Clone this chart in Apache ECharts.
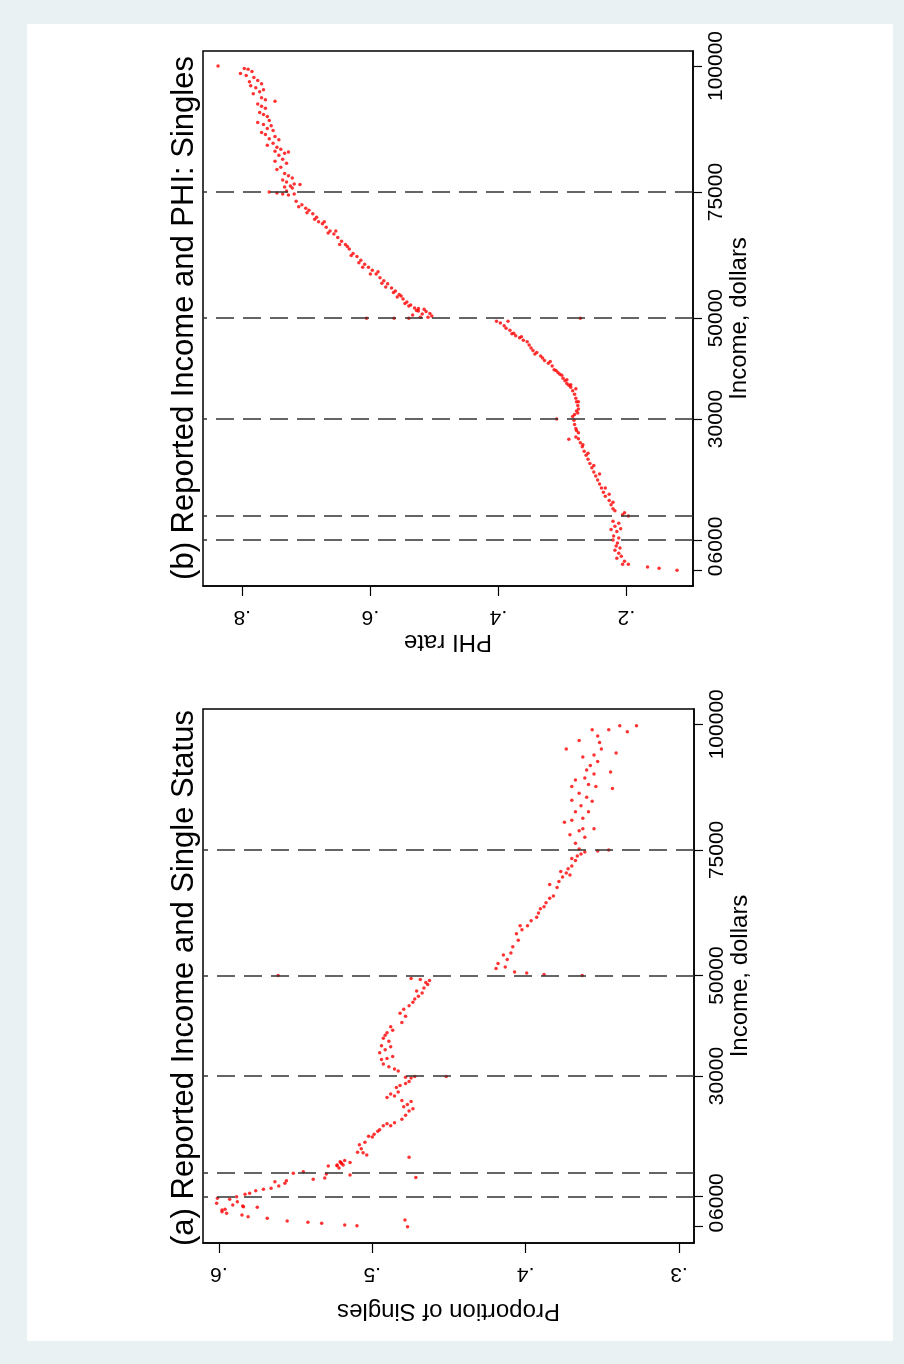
<!DOCTYPE html>
<html>
<head>
<meta charset="utf-8">
<script src="https://cdn.jsdelivr.net/npm/echarts@6/dist/echarts.min.js"></script>
<style>
html,body{margin:0;padding:0;background:#e9f1f3;}
#c{width:904px;height:1364px;}
</style>
</head>
<body>
<div id="c"></div>
<script>
// ---------- data ----------
const incomeTicks = [0, 6000, 30000, 50000, 75000, 100000];
const cutoffs = [6000, 10800, 30000, 50000, 75000];
const singlesTicks = [0.3, 0.4, 0.5, 0.6];
const phiTicks = [0.2, 0.4, 0.6, 0.8];

// Panel (a): income (dollars) and proportion of singles
const incomeA = [
5650,4660,2990,3460,2670,5450,4320,5970,4980,2330,3980,1990,6450,6650,3860,7170,7440,1670,7640,8960,
8100,8640,9160,1130,10630,10950,880,9430,680,10500,9700,12080,12280,12940,12600,340,10300,200,3300,4100,
1330,0,9800,13800,
12150,12800,12300,13200,11700,12800,14800,16300,15500,14700,16800,14250,18000,17850,18400,19000,19300,20100,20500,20100,20700,
21400,22200,23050,23500,24300,23900,24900,25100,26000,26800,26400,25700,27700,28100,28500,28900,29600,29900,29750,29900,
31000,31400,31850,32400,33300,33500,33900,34600,35200,35800,36000,36900,37500,38600,39100,38100,39800,
40650,41900,42500,43300,44000,44700,45300,45850,46500,46900,47500,48200,48600,49000,49200,49400,50000,
51400,52400,51700,53200,54100,54500,50700,50500,50200,50000,
55700,57000,58300,59100,59900,59900,60900,61600,62450,63300,63700,64500,65400,65800,68100,67500,68700,69600,70400,71250,
70700,71800,72900,73800,74200,74600,74800,75000,70000,
73300,75200,76300,78000,78800,79200,80900,80500,81300,82600,83800,84900,85500,86300,88000,88900,89300,90100,91800,92600,
93900,95100,96400,96800,98900,97650,98900,99700,99700,98500,90500,87200,94300,95100,79200,77500,82600,84700,87600,87600,
90900,93500
];
const singlesA = [
.601,.6015,.598,.596,.595,.593,.591,.5885,.588,.585,.584,.581,.583,.580,.575,.576,.571,.5685,.566,.5635,
.561,.557,.556,.5555,.5515,.545,.542,.5385,.533,.530,.531,.5287,.523,.521,.520,.518,.5145,.510,.598,.5845,
.4787,.477,.4716,.476,
.523,.5205,.519,.518,.5217,.5145,.5096,.5084,.5072,.506,.5048,.5036,.5024,.500,.4988,.4964,.4952,.4928,.4904,.488,.4855,
.4807,.4783,.476,.4735,.4771,.4795,.4747,.4807,.4855,.4831,.488,.4904,.4843,.4819,.4783,.476,.4747,.4723,.4783,.4518,
.4831,.4855,.4892,.4928,.494,.4904,.4867,.4952,.4916,.488,.494,.4892,.4928,.4904,.4867,.4916,.488,
.4807,.4783,.4819,.4795,.476,.4735,.4723,.4699,.4675,.4711,.4663,.4639,.4651,.4627,.4687,.4747,.5614,
.4193,.418,.4133,.412,.4145,.4096,.4072,.3993,.388,.3631,
.4084,.4048,.406,.4024,.4036,.3988,.3964,.3928,.3916,.3904,.388,.3867,.3843,.3819,.3843,.3795,.3783,.3759,.3735,.3723,
.3771,.3699,.3675,.3663,.3639,.3614,.353,.3458,.3711,
.3699,.3651,.3675,.3711,.3651,.3627,.3699,.3747,.3627,.3675,.3639,.3699,.3602,.3651,.359,.3675,.3614,.3554,.3578,.353,
.3554,.3506,.3518,.3651,.3566,.353,.3458,.3386,.3277,.3337,.3446,.3434,.341,.3735,.3554,.3614,.359,.3566,.3542,.3699,
.3602,.3627
];

// Panel (b): income (dollars) and PHI rate
const incomeB = [
100000,98500,99500,99350,98900,98100,97700,96900,97100,96500,96100,95700,95300,94900,94500,93700,93300,93000,92450,92000,
91600,90800,90400,90000,89200,88800,88400,88150,87600,87200,86800,86400,86000,85550,85400,84700,84300,83900,83500,83100,
82700,82950,82300,81500,81100,80700,79900,79500,78700,78250,77800,77400,77000,76600,76200,76500,75800,76000,75200,
75000,74800,74600,74400,74600,
73200,72500,71800,71400,70700,70000,69100,68700,68000,67300,66700,66000,65250,64600,63700,62800,62200,61500,60700,60100,
59500,58750,58000,57400,56800,56000,55400,54700,53800,53200,52600,52000,51400,50800,51300,50900,50450,50600,51900,51750,50200,
72100,70900,69600,69100,66900,67300,64600,64200,62400,61000,60100,58750,59200,56900,56200,55100,54200,54400,52900,52400,51500,50200,
50000,50000,50000,
49400,49050,49400,48500,48000,47600,47000,46500,46100,45600,45300,44700,44100,43600,43200,42500,41600,41050,40500,39750,
39200,38700,38100,37600,37050,36700,36300,35600,34900,34100,33400,32700,32000,31600,30900,30500,29750,28900,27700,26450,
26100,25300,24500,23600,22800,22000,21200,20350,19500,18700,17900,17100,16300,15500,14700,13850,13000,12200,11800,11400,
10750,11000,
50000,30000,26000,
46900,46300,42900,42100,41400,39600,38900,37800,36800,36000,33400,31200,28100,27300,24900,23200,20800,19100,16300,15100,13500,
9750,9330,8750,8100,7700,8250,6800,6400,6000,5400,4800,4400,4000,3400,2800,2400,1800,1200,1200,640,400,0
];
const phiB = [
.838,.803,.797,.791,.785,.794,.782,.789,.776,.770,.787,.779,.767,.773,.783,.770,.764,.749,.776,.770,
.764,.773,.767,.761,.758,.776,.767,.755,.761,.752,.770,.764,.749,.758,.743,.752,.761,.746,.740,.749,
.734,.728,.743,.737,.749,.731,.740,.746,.734,.728,.722,.737,.731,.719,.725,.710,.722,.734,.731,
.758,.746,.737,.728,.719,
.716,.707,.701,.696,.690,.684,.681,.675,.669,.663,.657,.651,.645,.639,.633,.627,.621,.615,.609,.603,
.597,.591,.585,.579,.573,.567,.561,.555,.549,.543,.537,.531,.525,.519,.513,.507,.504,.534,.525,.516,.510,
.712,.699,.687,.672,.666,.654,.648,.636,.630,.618,.612,.600,.588,.582,.576,.564,.558,.552,.546,.540,.528,.522,
.606,.563,.540,
.403,.397,.385,.391,.388,.382,.376,.373,.367,.361,.355,.352,.349,.346,.340,.334,.328,.322,.316,.313,
.307,.301,.299,.296,.293,.290,.287,.284,.281,.279,.278,.276,.275,.278,.281,.284,.282,.281,.278,.279,
.275,.272,.269,.266,.263,.260,.257,.254,.251,.248,.245,.242,.239,.236,.233,.227,.224,.221,.218,.203,
.197,.206,
.272,.309,.290,
.379,.364,.343,.331,.319,.310,.304,.293,.287,.279,.275,.276,.279,.275,.268,.260,.251,.242,.233,.227,.221,
.221,.212,.218,.224,.215,.209,.220,.212,.221,.214,.216,.210,.218,.212,.208,.215,.203,.206,.197,.167,.149,.121
];

const titleA = '(a) Reported Income and Single Status';
const titleB = '(b) Reported Income and PHI: Singles';

// ---------- chart ----------
const FONT = '"Liberation Sans", Arial, Helvetica, sans-serif';
const chart = echarts.init(document.getElementById('c'), null, {renderer: 'canvas', width: 904, height: 1364});

function propAxis(gridIndex, min, max, ticks, name, nameGap) {
  return {
    type: 'value', gridIndex, min, max, inverse: true, position: 'bottom',
    name, nameLocation: 'middle', nameGap, nameRotate: 180, nameMoveOverlap: false,
    nameTextStyle: {fontFamily: FONT, fontSize: 24, color: '#000'},
    axisLine: {show: true, onZero: false, lineStyle: {color: '#000', width: 1.5}},
    axisTick: {show: true, length: 10, customValues: ticks, lineStyle: {color: '#000', width: 1.2}},
    axisLabel: {show: true, customValues: ticks, rotate: 180, margin: 20, fontFamily: FONT, fontSize: 21, color: '#000',
      hideOverlap: false, formatter: v => v.toFixed(1).replace(/^0/, '')},
    splitLine: {show: false}
  };
}
function incomeAxis(gridIndex, min, max) {
  return {
    type: 'value', gridIndex, min, max, position: 'right',
    name: 'Income, dollars', nameLocation: 'middle', nameGap: 34, nameRotate: 90, nameMoveOverlap: false,
    nameTextStyle: {fontFamily: FONT, fontSize: 24, color: '#000'},
    axisLine: {show: true, onZero: false, lineStyle: {color: '#000', width: 1.5}},
    axisTick: {show: true, length: 9, customValues: incomeTicks, lineStyle: {color: '#000', width: 1.2}},
    axisLabel: {show: true, customValues: incomeTicks, rotate: 90, margin: 13, fontFamily: FONT, fontSize: 21, color: '#000',
      hideOverlap: false, showMinLabel: true, showMaxLabel: true, formatter: v => String(Math.round(v))},
    splitLine: {show: false}
  };
}
function cutLines() {
  return {
    silent: true, symbol: 'none', animation: false,
    label: {show: false},
    lineStyle: {color: '#333', width: 1.5, type: [18, 9]},
    data: cutoffs.map(v => ({yAxis: v}))
  };
}

const option = {
  backgroundColor: '#e9f1f3',
  animation: false,
  graphic: [
    {type: 'rect', z: -10, shape: {x: 27, y: 24, width: 866, height: 1317}, style: {fill: '#ffffff'}},
    {type: 'text', x: 184, y: 318, rotation: Math.PI / 2,
     style: {text: titleB, fontFamily: FONT, fontSize: 31, fill: '#000', align: 'center', verticalAlign: 'middle', textAlign: 'center', textVerticalAlign: 'middle'}},
    {type: 'text', x: 184, y: 978, rotation: Math.PI / 2,
     style: {text: titleA, fontFamily: FONT, fontSize: 31, fill: '#000', align: 'center', verticalAlign: 'middle', textAlign: 'center', textVerticalAlign: 'middle'}}
  ],
  grid: [
    {left: 203, top: 709, width: 491, height: 534, show: true, borderColor: '#000', borderWidth: 1.5, backgroundColor: 'transparent'},
    {left: 203, top: 51, width: 490, height: 535, show: true, borderColor: '#000', borderWidth: 1.5, backgroundColor: 'transparent'}
  ],
  xAxis: [
    propAxis(0, 0.2902, 0.6104, singlesTicks, 'Proportion of Singles', 56),
    propAxis(1, 0.096, 0.8615, phiTicks, 'PHI rate', 44)
  ],
  yAxis: [
    incomeAxis(0, -3244, 103045),
    incomeAxis(1, -3113, 102974)
  ],
  series: [
    {type: 'scatter', xAxisIndex: 0, yAxisIndex: 0, symbol: 'circle', symbolSize: 3.5,
     itemStyle: {color: '#ff0000'}, data: incomeA.map((v, i) => [singlesA[i], v]), markLine: cutLines()},
    {type: 'scatter', xAxisIndex: 1, yAxisIndex: 1, symbol: 'circle', symbolSize: 3.5,
     itemStyle: {color: '#ff0000'}, data: incomeB.map((v, i) => [phiB[i], v]), markLine: cutLines()}
  ]
};
chart.setOption(option);
</script>
</body>
</html>
